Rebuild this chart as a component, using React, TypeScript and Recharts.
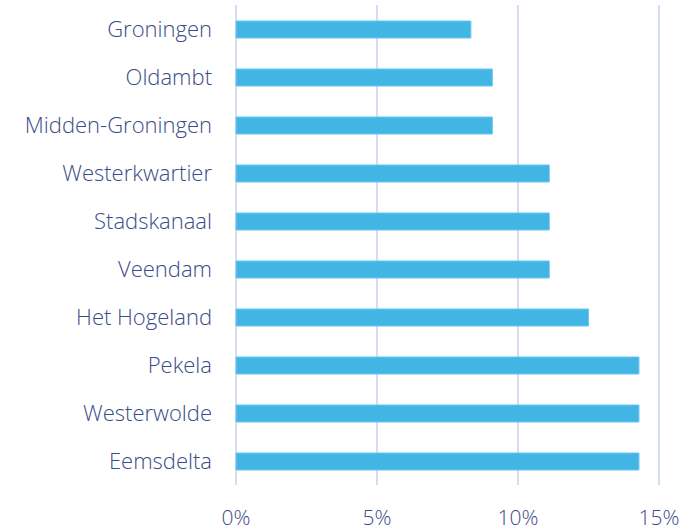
import { Bar, BarChart, CartesianGrid, XAxis, YAxis } from 'recharts';

const gemeenten = [
  'Groningen',
  'Oldambt',
  'Midden-Groningen',
  'Westerkwartier',
  'Stadskanaal',
  'Veendam',
  'Het Hogeland',
  'Pekela',
  'Westerwolde',
  'Eemsdelta',
];

const aandeel = [8.33, 9.09, 9.09, 11.11, 11.11, 11.11, 12.5, 14.29, 14.29, 14.29];

const xTicks = [0, 5, 10, 15];

const data = gemeenten.map((name, i) => ({ name, value: aandeel[i] }));

const textColor = '#3a4b87';
const font = '"Open Sans", "Noto Sans", sans-serif';

export default function App() {
  return (
    <div style={{ width: 691, height: 532, fontFamily: font }}>
      <style>{'body{margin:0}'}</style>
      <BarChart
        width={691}
        height={532}
        data={data}
        layout="vertical"
        margin={{ top: 5, right: 32, left: 0, bottom: 0 }}
      >
        <CartesianGrid horizontal={false} stroke="#d5ddf3" strokeWidth={2} />
        <XAxis
          type="number"
          domain={[0, 15]}
          ticks={xTicks}
          tickFormatter={(v) => `${v}%`}
          axisLine={false}
          tickLine={false}
          tickSize={0}
          tickMargin={25}
          height={47}
          tick={{ fill: textColor, fontSize: 21, fontWeight: 300, fontFamily: font }}
        />
        <YAxis
          type="category"
          dataKey="name"
          width={236}
          axisLine={false}
          tickLine={false}
          tickSize={0}
          tickMargin={24}
          interval={0}
          tick={{ fill: textColor, fontSize: 22, fontWeight: 300, fontFamily: font }}
        />
        <Bar dataKey="value" fill="#43b5e5" stroke="#6cc8ee" strokeWidth={1} barSize={17} isAnimationActive={false} />
      </BarChart>
    </div>
  );
}
